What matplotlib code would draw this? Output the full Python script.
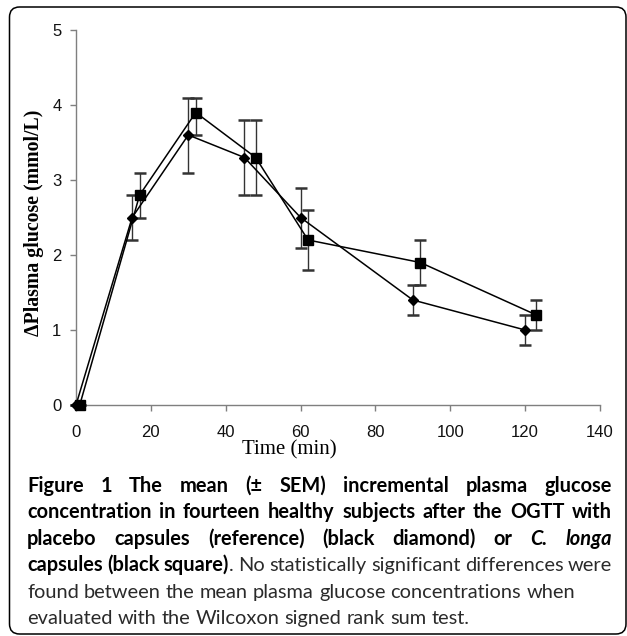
import matplotlib
matplotlib.use("Agg")
import matplotlib.pyplot as plt
import numpy as np
from matplotlib.patches import FancyBboxPatch

# datos
t_placebo = [0, 15, 30, 45, 60, 90, 120]
g_placebo = [0, 2.5, 3.6, 3.3, 2.5, 1.4, 1.0]
lo_placebo = [0, 2.2, 3.1, 2.8, 2.1, 1.2, 0.8]
hi_placebo = [0, 2.8, 4.1, 3.8, 2.9, 1.6, 1.2]

t_longa = [1, 17, 32, 48, 62, 92, 123]
g_longa = [0, 2.8, 3.9, 3.3, 2.2, 1.9, 1.2]
lo_longa = [0, 2.5, 3.6, 2.8, 1.8, 1.6, 1.0]
hi_longa = [0, 3.1, 4.1, 3.8, 2.6, 2.2, 1.4]

x_ticks = [0, 20, 40, 60, 80, 100, 120, 140]
y_ticks = [0, 1, 2, 3, 4, 5]

caption = [
    [("Figure 1 The mean (\u00b1 SEM) incremental plasma glucose", "b")],
    [("concentration in fourteen healthy subjects after the OGTT with", "b")],
    [("placebo capsules (reference) (black diamond) or ", "b"), ("C. longa", "bi")],
    [("capsules (black square)", "b"), (". No statistically significant differences were", "r")],
    [("found between the mean plasma glucose concentrations when", "r")],
    [("evaluated with the Wilcoxon signed rank sum test.", "r")],
]
justified = [True, True, True, True, False, False]

W, H = 627, 636
fig = plt.figure(figsize=(W / 100, H / 100), dpi=100)

# marco redondeado
box = FancyBboxPatch((9.5 / W, 2 / H), (626 - 9.5) / W, (H - 7 - 2) / H,
                     boxstyle="round,pad=0,rounding_size=0.016",
                     transform=fig.transFigure, fill=False, ec="black", lw=1.1)
fig.patches.append(box)

ax = fig.add_axes([76 / W, 1 - 405 / H, (600 - 76) / W, (405 - 30) / H])

def err(g, lo, hi):
    g = np.array(g); lo = np.array(lo); hi = np.array(hi)
    return [g - lo, hi - g]

ax.errorbar(t_placebo, g_placebo, yerr=err(g_placebo, lo_placebo, hi_placebo),
            color="black", marker="D", ms=5, lw=1.1, ecolor="#333333",
            elinewidth=1, capsize=4.5, capthick=1.8, clip_on=False, zorder=3)
ax.errorbar(t_longa, g_longa, yerr=err(g_longa, lo_longa, hi_longa),
            color="black", marker="s", ms=7.5, lw=1.1, ecolor="#333333",
            elinewidth=1, capsize=4.5, capthick=1.8, clip_on=False, zorder=3)

ax.set_xlim(0, 140)
ax.set_ylim(0, 5)
ax.set_xticks(x_ticks)
ax.set_yticks(y_ticks)
for s in ["top", "right"]:
    ax.spines[s].set_visible(False)
for s in ["left", "bottom"]:
    ax.spines[s].set_color("#7f7f7f")
    ax.spines[s].set_linewidth(1)
ax.tick_params(colors="#7f7f7f", length=4.5, width=1, labelcolor="#111111",
               labelsize=12)
ax.tick_params(axis="x", pad=10)
ax.tick_params(axis="y", pad=6)
for lb in ax.get_xticklabels() + ax.get_yticklabels():
    lb.set_family("Liberation Sans")

fig.text(289 / W, 1 - 450 / H, "Time (min)", family="Liberation Serif",
         fontsize=15, ha="center", va="center")
fig.text(34 / W, 1 - 223 / H, "\u0394Plasma glucose (mmol/L)", family="Liberation Serif",
         fontweight="bold", fontsize=14.3, rotation=90, ha="center", va="center")

# pie de figura (justificado a mano)
styles = {"b": dict(fontweight="bold", fontstyle="normal", color="black"),
          "bi": dict(fontweight="bold", fontstyle="italic", color="black"),
          "r": dict(fontweight="normal", fontstyle="normal", color="#2a2a2a")}
fam = "Lato"
renderer = fig.canvas.get_renderer()

def width(s, st, fs):
    t = fig.text(0, 0, s, family=fam, fontsize=fs, **styles[st])
    w = t.get_window_extent(renderer).width
    t.remove()
    return w

def words_of(segs):
    words = []
    glue = False
    for text, st in segs:
        parts = text.split(" ")
        for i, p in enumerate(parts):
            if p == "":
                glue = False
                continue
            if i == 0 and glue and words:
                words[-1].append((p, st))
            else:
                words.append([(p, st)])
            glue = True
        glue = not text.endswith(" ")
    return words

# tamaño de letra segun el ancho de la linea 5
w10 = width("found between the mean plasma glucose concentrations when", "r", 10)
fs = 10 * (575 - 27) / w10

x0, x1 = 27, 612
baselines = [492, 518, 545, 571, 598, 624]
for segs, just, yb in zip(caption, justified, baselines):
    words = words_of(segs)
    wl = [[width(p, st, fs) for p, st in wd] for wd in words]
    total = sum(sum(w) for w in wl)
    sp = width("a a", "r", fs) - width("aa", "r", fs)
    if just and len(words) > 1:
        gap = (x1 - x0 - total) / (len(words) - 1)
    else:
        gap = sp
    x = x0
    for wd, ws in zip(words, wl):
        for (p, st), w in zip(wd, ws):
            fig.text(x / W, 1 - yb / H, p, family=fam, fontsize=fs,
                     va="baseline", ha="left", **styles[st])
            x += w
        x += gap

fig.savefig("out.png", dpi=100)
